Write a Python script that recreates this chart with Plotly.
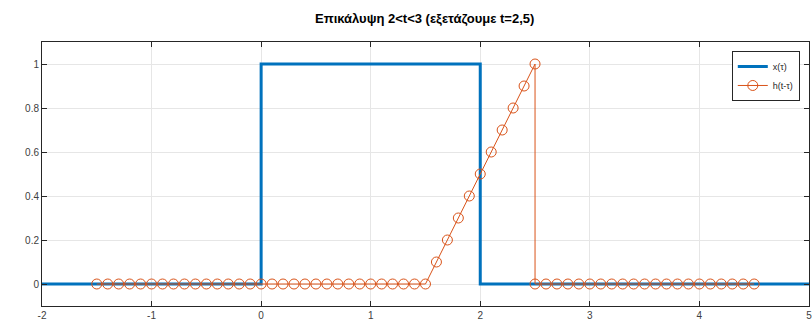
import plotly.graph_objects as go

# x(tau): rectangular pulse
x_tau = [-2, 0, 0, 2, 2, 5]
x_val = [0, 0, 1, 1, 0, 0]

# h(t - tau) sampled, t = 2.5
h_tau = [-1.5, -1.4, -1.3, -1.2, -1.1, -1.0, -0.9, -0.8, -0.7, -0.6,
         -0.5, -0.4, -0.3, -0.2, -0.1, 0.0, 0.1, 0.2, 0.3, 0.4,
         0.5, 0.6, 0.7, 0.8, 0.9, 1.0, 1.1, 1.2, 1.3, 1.4,
         1.5, 1.6, 1.7, 1.8, 1.9, 2.0, 2.1, 2.2, 2.3, 2.4,
         2.5, 2.5, 2.6, 2.7, 2.8, 2.9, 3.0, 3.1, 3.2, 3.3,
         3.4, 3.5, 3.6, 3.7, 3.8, 3.9, 4.0, 4.1, 4.2, 4.3,
         4.4, 4.5]
h_val = [0, 0, 0, 0, 0, 0, 0, 0, 0, 0,
         0, 0, 0, 0, 0, 0, 0, 0, 0, 0,
         0, 0, 0, 0, 0, 0, 0, 0, 0, 0,
         0, 0.1, 0.2, 0.3, 0.4, 0.5, 0.6, 0.7, 0.8, 0.9,
         1.0, 0, 0, 0, 0, 0, 0, 0, 0, 0,
         0, 0, 0, 0, 0, 0, 0, 0, 0, 0,
         0, 0]

x_ticks = [-2, -1, 0, 1, 2, 3, 4, 5]
y_ticks = [0, 0.2, 0.4, 0.6, 0.8, 1]
y_tick_text = ["0", "0.2", "0.4", "0.6", "0.8", "1"]

title_text = "Επικάλυψη 2<t<3 (εξετάζουμε t=2,5)"

fig = go.Figure()
fig.add_trace(go.Scatter(
    x=x_tau, y=x_val, mode="lines", name="x(τ)",
    line=dict(color="#0072BD", width=3),
))
fig.add_trace(go.Scatter(
    x=h_tau, y=h_val, mode="lines+markers", name="h(t-τ)",
    line=dict(color="#D95319", width=1),
    marker=dict(symbol="circle-open", size=10, color="#D95319",
                line=dict(width=1, color="#D95319")),
))

axis_common = dict(
    showgrid=True, gridcolor="#E6E6E6", gridwidth=1,
    zeroline=False, showline=True, linecolor="#262626", linewidth=1,
    mirror="ticks", ticks="inside", ticklen=5, tickcolor="#262626",
    ticklabeloverflow="allow",
    tickfont=dict(family="Liberation Sans, Arial, sans-serif", size=10, color="#404040"),
)

fig.update_layout(
    width=812, height=330,
    margin=dict(l=42, r=0, t=42, b=24),
    paper_bgcolor="white", plot_bgcolor="white",
    title=dict(text="<b>" + title_text + "</b>", x=0.523, xanchor="center",
               y=0.945, yanchor="middle",
               font=dict(family="Liberation Sans, Arial, sans-serif", size=13, color="#000000")),
    xaxis=dict(range=[-2, 5.0005], tickvals=x_ticks, ticktext=[str(v) for v in x_ticks], **axis_common),
    yaxis=dict(range=[-0.1, 1.1], tickvals=y_ticks, ticktext=y_tick_text, **axis_common),
    showlegend=True,
    legend=dict(x=0.988, xanchor="right", y=0.966, yanchor="top",
                bgcolor="white", bordercolor="#262626", borderwidth=1,
                font=dict(family="Liberation Sans, Arial, sans-serif", size=9, color="#262626"),
                itemwidth=30, tracegroupgap=0),
)

fig.write_html("out.html")
